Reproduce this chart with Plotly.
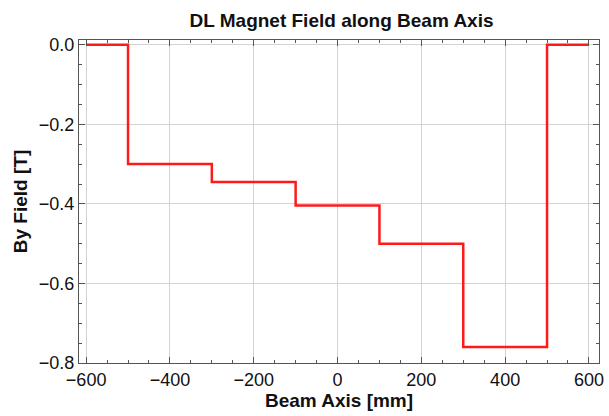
import plotly.graph_objects as go

# Piecewise-constant dipole field profile (step edges in mm, field in T)
edges_mm = [-600, -500, -300, -100, 100, 300, 500, 600]
field_T = [0.0, -0.30, -0.345, -0.404, -0.50, -0.76, 0.0, 0.0]

x_ticks = [-600, -400, -200, 0, 200, 400, 600]
y_ticks = [0.0, -0.2, -0.4, -0.6, -0.8]

fig = go.Figure()
fig.add_trace(go.Scatter(
    x=edges_mm, y=field_T, mode="lines", line_shape="hv",
    line=dict(color="#ff1a1a", width=2.5), showlegend=False,
))

font_family = "Liberation Sans, Arial, sans-serif"
axis_common = dict(
    showline=True, linecolor="#555555", linewidth=1, mirror="ticks",
    ticks="inside", ticklen=6, tickcolor="#555555", tickwidth=1,
    showgrid=True, gridcolor="#d3d3d3", gridwidth=1, zeroline=False,
    tickfont=dict(family=font_family, size=18, color="#111111"),
)

fig.update_xaxes(
    range=[-617, 624], tickvals=x_ticks, ticktext=[f"{v}".replace("-", "\u2212") for v in x_ticks],
    minor=dict(ticks="inside", ticklen=3, dtick=50, tick0=0, tickcolor="#555555", showgrid=False),
    title=dict(text="<b>Beam Axis [mm]</b>", font=dict(family=font_family, size=19, color="#111111"), standoff=4),
    **axis_common,
)
fig.update_yaxes(
    range=[-0.8, 0.012], tickvals=y_ticks, ticktext=[f"{v:.1f}".replace("-", "\u2212") for v in y_ticks],
    minor=dict(ticks="inside", ticklen=3, dtick=0.05, tick0=0, tickcolor="#555555", showgrid=False),
    title=dict(text="<b>By Field [T]</b>", font=dict(family=font_family, size=19, color="#111111"), standoff=6),
    **axis_common,
)

fig.update_layout(
    width=609, height=416,
    margin=dict(l=79, r=5, t=40, b=53),
    paper_bgcolor="white", plot_bgcolor="white",
    title=dict(text="<b>DL Magnet Field along Beam Axis</b>", x=(79 + 604) / 2 / 609, xanchor="center",
               y=1 - 20 / 416, yanchor="middle",
               font=dict(family=font_family, size=19, color="#111111")),
)

fig.write_html("out.html")
